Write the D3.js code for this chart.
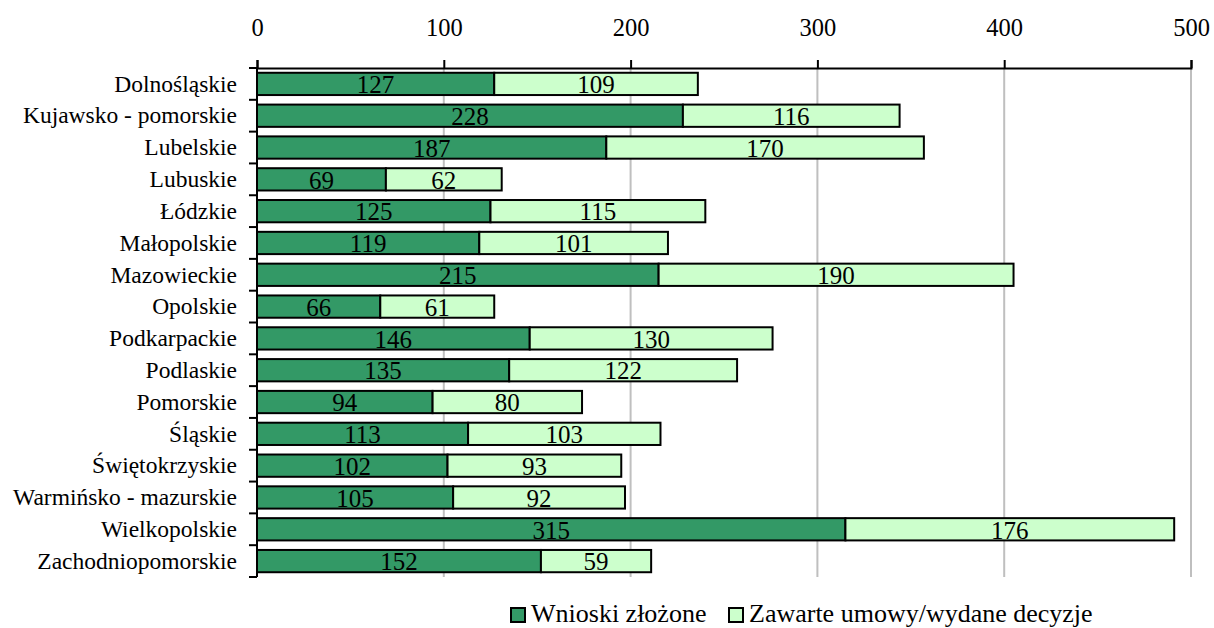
<!DOCTYPE html>
<html><head><meta charset="utf-8">
<script src="https://cdn.jsdelivr.net/npm/d3@7"></script>
<style>body{margin:0;background:#fff}svg{display:block}
svg text{font-family:"Liberation Serif","Tinos","Times New Roman","Nimbus Roman","DejaVu Serif",serif !important}</style>
</head><body>
<svg id="c" width="1214" height="628"></svg>
<script>
const categories=["Dolnośląskie","Kujawsko - pomorskie","Lubelskie","Lubuskie","Łódzkie","Małopolskie","Mazowieckie","Opolskie","Podkarpackie","Podlaskie","Pomorskie","Śląskie","Świętokrzyskie","Warmińsko - mazurskie","Wielkopolskie","Zachodniopomorskie"];
const wnioski=[127,228,187,69,125,119,215,66,146,135,94,113,102,105,315,152];
const umowy=[109,116,170,62,115,101,190,61,130,122,80,103,93,92,176,59];
const seriesNames=["Wnioski złożone","Zawarte umowy/wydane decyzje"];
const colors=["#339966","#CCFFCC"];
const ticks=[0,100,200,300,400,500];
const FF="Liberation Serif, Times New Roman, serif";

const svg=d3.select("#c");
const L=257,R=1191,T=68,B=577;
const x=d3.scaleLinear().domain([0,500]).range([L,R]);
const y=d3.scaleBand().domain(categories).range([T,B]).paddingInner(0.3).paddingOuter(0.15);

svg.append("g").selectAll("line").data(ticks.slice(1)).join("line")
 .attr("x1",d=>x(d)).attr("x2",d=>x(d)).attr("y1",T).attr("y2",B)
 .attr("stroke","#bfbfbf").attr("stroke-width",2);

const data=categories.map((c,i)=>({c,v:[wnioski[i],umowy[i]]}));
const g=svg.append("g");
data.forEach(d=>{
  let acc=0;
  d.v.forEach((v,j)=>{
    g.append("rect").attr("x",x(acc)).attr("y",y(d.c)).attr("width",x(acc+v)-x(acc)).attr("height",y.bandwidth())
     .attr("fill",colors[j]).attr("stroke","#000").attr("stroke-width",2);
    g.append("text").attr("x",(x(acc)+x(acc+v))/2).attr("y",y(d.c)+y.bandwidth()/2).attr("dy","0.37em")
     .attr("text-anchor","middle").attr("font-family",FF).attr("font-size",25).text(v);
    acc+=v;
  });
});

const xa=svg.append("g").attr("transform",`translate(0,${T})`)
 .call(d3.axisTop(x).tickValues(ticks).tickSize(8).tickPadding(24).tickFormat(d3.format("d")));
xa.attr("font-family",FF);
xa.select(".domain").attr("stroke","#000").attr("stroke-width",2);
xa.selectAll(".tick line").attr("stroke","#000").attr("stroke-width",2);
xa.selectAll("text").attr("font-size",24.5).attr("fill","#000").attr("font-family",FF);

const ya=svg.append("g").attr("transform",`translate(${L},0)`);
ya.append("line").attr("x1",0).attr("x2",0).attr("y1",T).attr("y2",B).attr("stroke","#000").attr("stroke-width",2);
const step=(B-T)/categories.length;
ya.selectAll("line.t").data(d3.range(categories.length+1)).join("line").attr("class","t")
 .attr("x1",-8).attr("x2",0).attr("y1",i=>T+i*step).attr("y2",i=>T+i*step).attr("stroke","#000").attr("stroke-width",2);
ya.selectAll("text").data(categories).join("text")
 .attr("x",-20).attr("y",d=>y(d)+y.bandwidth()/2).attr("dy","0.33em").attr("text-anchor","end")
 .attr("font-family",FF).attr("font-size",23.5).text(d=>d);

const leg=svg.append("g");
const lx=[511,729];
seriesNames.forEach((n,i)=>{
  leg.append("rect").attr("x",lx[i]).attr("y",608).attr("width",14).attr("height",14)
   .attr("fill",colors[i]).attr("stroke","#000").attr("stroke-width",2);
  leg.append("text").attr("x",lx[i]+20).attr("y",622).attr("font-family",FF).attr("font-size",26).text(n);
});
</script>
</body></html>
